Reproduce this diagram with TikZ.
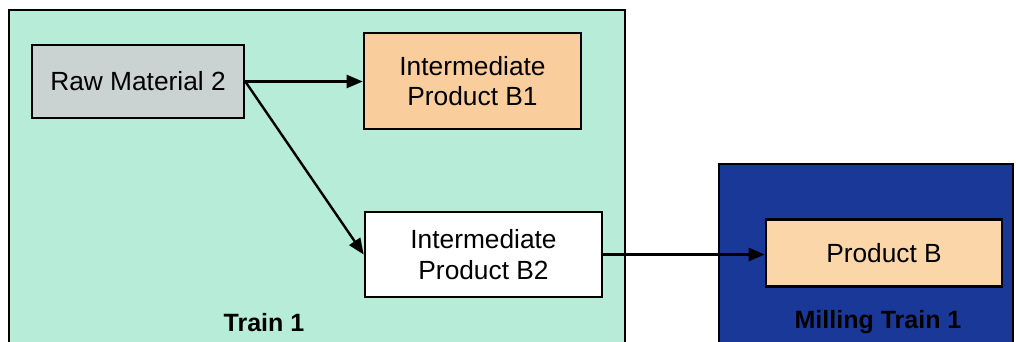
\documentclass[tikz,border=0pt]{standalone}
\usepackage{fontspec}
\setmainfont{Liberation Sans}
\usetikzlibrary{arrows.meta}
\definecolor{trainfill}{RGB}{182,236,216}
\definecolor{millfill}{RGB}{26,56,152}
\definecolor{rawfill}{RGB}{202,210,210}
\definecolor{interfill}{RGB}{249,206,156}
\definecolor{prodfill}{RGB}{250,214,168}
\tikzset{
  area/.style={draw=black, line width=1.8pt, rectangle, inner sep=0pt},
  stepbox/.style={draw=black, line width=2.6pt, rectangle, inner sep=0pt,
    align=center, font=\fontsize{26.3}{30.5}\selectfont},
  arealabel/.style={font=\bfseries\fontsize{25}{30}\selectfont},
  flow/.style={line width=2.4pt, -{Triangle[length=16pt,width=13pt]}}
}
\begin{document}
\begin{tikzpicture}[x=1pt, y=-1pt]
  \useasboundingbox (0,0) rectangle (1016,342);
  \clip (0,0) rectangle (1016,342);
  \fill[white] (0,0) rectangle (1016,342);
  % process areas (they run past the lower edge)
  \node[area, fill=trainfill, minimum width=616pt, minimum height=360pt,
        anchor=north west] (train) at (8,9) {};
  \node[area, fill=millfill, minimum width=294pt, minimum height=200pt,
        anchor=north west] (mill) at (718,163) {};
  % material boxes
  \node[stepbox, fill=rawfill, minimum width=212pt, minimum height=73pt]
        (raw) at (138,81.5) {Raw Material 2};
  \node[stepbox, fill=interfill, minimum width=217pt, minimum height=96pt]
        (ib1) at (472.5,81) {Intermediate\\Product B1};
  \node[stepbox, fill=white, minimum width=237pt, minimum height=85pt]
        (ib2) at (483.5,254.5) {Intermediate\\Product B2};
  \node[stepbox, fill=prodfill, minimum width=236pt, minimum height=67pt]
        (pb) at (884,253) {Product B};
  % area labels
  \node[arealabel] (trainlbl) at (264,323) {Train 1};
  \node[arealabel] (milllbl) at (878,322) {Milling Train 1};
  % flows
  \draw[flow] (raw.east) -- (raw.east -| ib1.west);
  \draw[flow] (raw.east) -- (ib2.west);
  \draw[flow] (ib2.east) -- (ib2.east -| pb.west);
\end{tikzpicture}
\end{document}
